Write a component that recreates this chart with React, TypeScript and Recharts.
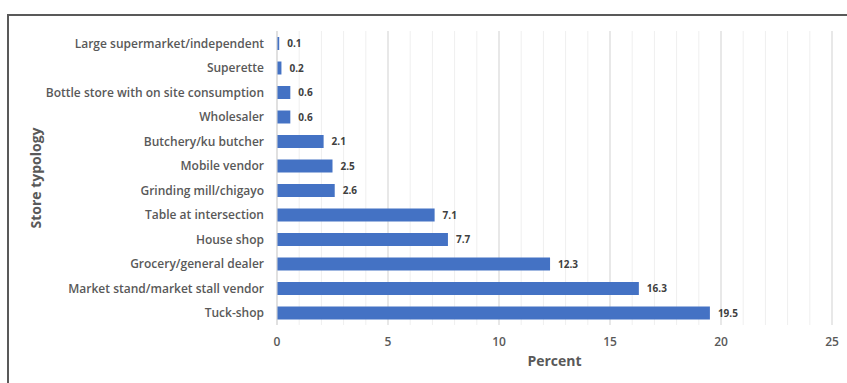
import { BarChart, Bar, XAxis, YAxis, CartesianGrid, LabelList } from 'recharts';

const categories = [
  'Large supermarket/independent',
  'Superette',
  'Bottle store with on site consumption',
  'Wholesaler',
  'Butchery/ku butcher',
  'Mobile vendor',
  'Grinding mill/chigayo',
  'Table at intersection',
  'House shop',
  'Grocery/general dealer',
  'Market stand/market stall vendor',
  'Tuck-shop',
];
const percents = [0.1, 0.2, 0.6, 0.6, 2.1, 2.5, 2.6, 7.1, 7.7, 12.3, 16.3, 19.5];
const xTicks = [0, 5, 10, 15, 20, 25];
const minorTicks = Array.from({ length: 26 }, (_, i) => i);

const data = categories.map((name, i) => ({ name, value: percents[i] }));

const font = '"Open Sans", "Liberation Sans", sans-serif';

export default function App() {
  return (
    <div style={{ position: 'absolute', left: 0, top: 0, width: 847, height: 383, background: '#fff', fontFamily: font }}>
      {/* outer frame, only left and top are in view */}
      <div
        style={{
          position: 'absolute',
          left: 7,
          top: 14,
          width: 860,
          height: 400,
          borderLeft: '2px solid #595959',
          borderTop: '2px solid #595959',
        }}
      />
      <div style={{ position: 'absolute', left: 0, top: 0 }}>
        <BarChart
          width={847}
          height={383}
          data={data}
          layout="vertical"
          margin={{ top: 31, right: 15, left: 0, bottom: 0 }}
          barCategoryGap={0}
        >
          <CartesianGrid horizontal={false} verticalValues={minorTicks} stroke="#efefef" />
          <CartesianGrid horizontal={false} verticalValues={xTicks} stroke="#d9d9d9" />
          <XAxis
            type="number"
            domain={[0, 25]}
            ticks={xTicks}
            height={58}
            axisLine={false}
            tickLine={false}
            tickSize={0}
            tickMargin={12}
            tick={{ fontSize: 12, fill: '#595959', fontFamily: font, fontWeight: 600 }}
            label={{
              value: 'Percent',
              position: 'insideBottom',
              offset: 17,
              style: { fontSize: 14, fill: '#595959', fontWeight: 700, fontFamily: font },
            }}
          />
          <YAxis
            type="category"
            dataKey="name"
            width={277}
            axisLine={{ stroke: '#d9d9d9' }}
            tickLine={false}
            tickSize={0}
            tickMargin={13}
            interval={0}
            tick={{ fontSize: 12, fill: '#595959', fontFamily: font, fontWeight: 600 }}
            label={{
              value: 'Store typology',
              angle: -90,
              position: 'insideLeft',
              offset: 36,
              style: { fontSize: 14, fill: '#595959', fontWeight: 700, fontFamily: font, textAnchor: 'middle' },
            }}
          />
          <Bar dataKey="value" fill="#4472C4" barSize={13} isAnimationActive={false}>
            <LabelList
              dataKey="value"
              position="right"
              offset={8}
              style={{ fontSize: 10, fill: '#404040', fontWeight: 700, fontFamily: font }}
            />
          </Bar>
        </BarChart>
      </div>
    </div>
  );
}
